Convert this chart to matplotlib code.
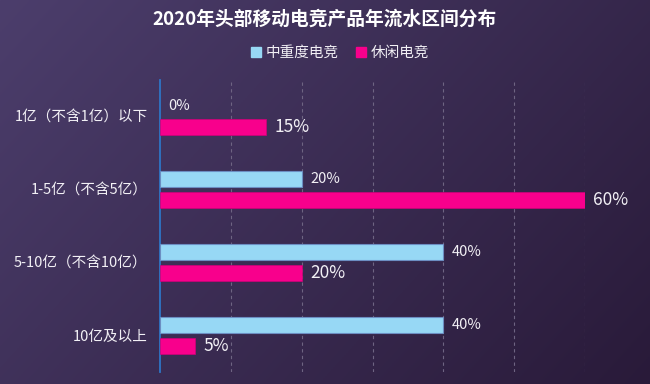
import numpy as np
import matplotlib
matplotlib.use("Agg")
import matplotlib.pyplot as plt
from matplotlib.patches import Rectangle

plt.rcParams['font.family'] = ['Noto Sans CJK SC', 'DejaVu Sans']

categories = ["1亿（不含1亿）以下", "1-5亿（不含5亿）", "5-10亿（不含10亿）", "10亿及以上"]
series_names = ["中重度电竞", "休闲电竞"]
mid_heavy = [0, 20, 40, 40]
casual = [15, 60, 20, 5]
title = "2020年头部移动电竞产品年流水区间分布"

c_cyan = "#97D8F5"
c_pink = "#F8008C"
txt = "#F2F0F5"

fig = plt.figure(figsize=(6.5, 3.84), dpi=100)

# background gradient
bg = fig.add_axes([0, 0, 1, 1], zorder=-10)
h, w = 200, 340
yy, xx = np.mgrid[0:h, 0:w]
t = (xx / w * 0.65 + yy / h * 0.35)
top = np.array([0x4C, 0x3E, 0x6C]) / 255
bot = np.array([0x29, 0x1A, 0x39]) / 255
img = top[None, None, :] * (1 - t[..., None]) + bot[None, None, :] * t[..., None]
bg.imshow(img, aspect='auto', extent=[0, 1, 0, 1], origin='upper')
bg.set_axis_off()

ax = fig.add_axes([160 / 650, 1 - 372 / 384, 425 / 650, 292 / 384])
ax.set_facecolor('none')

y = np.arange(len(categories))
bh = 0.22
off = 0.147
cyan_edges = ["#6C8EC2" if v > 0 else "none" for v in mid_heavy]
pink_edges = ["#D0007A" if v > 0 else "none" for v in casual]
ax.barh(y - off, mid_heavy, height=bh, color=c_cyan, edgecolor=cyan_edges, linewidth=0.8, zorder=3)
ax.barh(y + off, casual, height=bh, color=c_pink, edgecolor=pink_edges, linewidth=0.5, zorder=3)

for yi, v in zip(y, mid_heavy):
    ax.annotate(f"{v}%", (v, yi - off), xytext=(6, 0), textcoords='offset points',
                va='center', ha='left', color=txt, fontsize=10.5, zorder=4)
for yi, v in zip(y, casual):
    ax.annotate(f"{v}%", (v, yi + off), xytext=(6, 0), textcoords='offset points',
                va='center', ha='left', color=txt, fontsize=12.5, zorder=4)

ax.set_xlim(0, 60)
ax.set_ylim(len(categories) - 0.5, -0.5)
ax.set_xticks([10, 20, 30, 40, 50, 60])
ax.xaxis.grid(True, color="#6E6482", linestyle=(0, (3, 3)), linewidth=0.8)
ax.set_axisbelow(True)
ax.tick_params(axis='x', length=0, labelbottom=False)
ax.set_yticks(y)
ax.set_yticklabels(categories, color=txt, fontsize=10.5)
ax.tick_params(axis='y', length=0, pad=9)
for s in ['top', 'right', 'bottom']:
    ax.spines[s].set_visible(False)
ax.spines['left'].set_color("#2E75C6")
ax.spines['left'].set_linewidth(1.3)

fig.text(0.5, 1 - 19 / 384, title, ha='center', va='center', color='white',
         fontsize=13.5, fontweight='bold')

# legend
handles = [Rectangle((0, 0), 1, 1, color=c_cyan), Rectangle((0, 0), 1, 1, color=c_pink)]
leg = fig.legend(handles, series_names, loc='center', bbox_to_anchor=(340 / 650, 1 - 53 / 384),
                 ncol=2, frameon=False, fontsize=10.5, handlelength=0.7, handleheight=0.7,
                 handletextpad=0.3, columnspacing=1.2, labelcolor=txt)

fig.savefig("out.png", dpi=100)
